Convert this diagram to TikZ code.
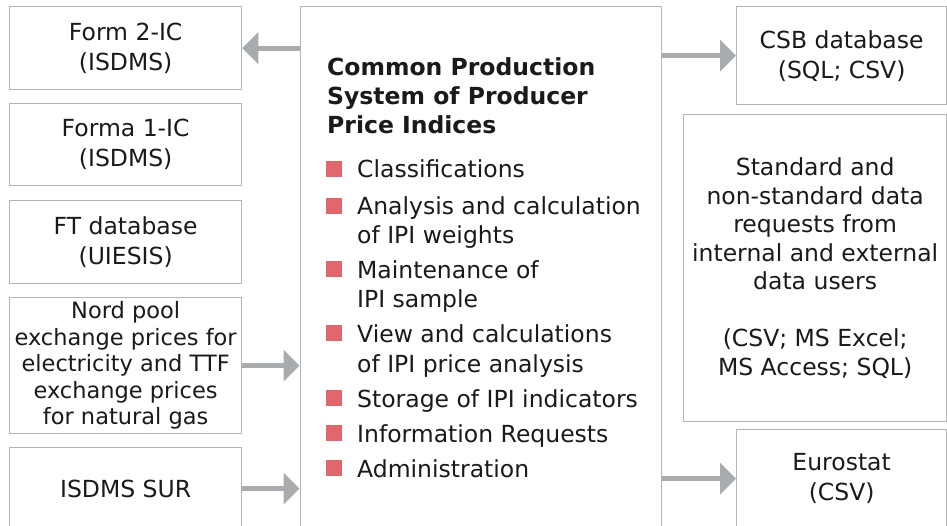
\documentclass[tikz,border=0pt]{standalone}
\usepackage{fontspec}
\setmainfont{DejaVu Sans}
\usetikzlibrary{arrows.meta}
\definecolor{boxline}{HTML}{B4B4B4}
\definecolor{arrowgray}{HTML}{A9ACAE}
\definecolor{bulletred}{HTML}{E0686C}
\definecolor{txt}{HTML}{1A1A1A}
\tikzset{
  box/.style={draw=boxline, line width=1.3pt, fill=white, inner sep=0pt,
    align=center, text=txt, anchor=north west,
    font=\fontsize{23.5}{30}\selectfont},
  conn/.style={draw=arrowgray, line width=5pt,
    -{Triangle[length=16pt,width=31pt]}},
  bulletsq/.style={fill=bulletred, minimum width=16pt, minimum height=15.5pt,
    inner sep=0pt, anchor=south west},
  itemtext/.style={anchor=base west, align=left, inner sep=0pt, text=txt,
    font=\fontsize{23.5}{29.5}\selectfont},
  titletext/.style={anchor=base west, align=left, inner sep=0pt, text=txt,
    font=\fontsize{23.5}{29}\selectfont\bfseries}
}
\begin{document}
\begin{tikzpicture}[x=1pt,y=-1pt]
\useasboundingbox (0,0) rectangle (947,526);
\fill[white] (0,0) rectangle (947,526);
\clip (0,0) rectangle (947,526);

% left column
\node[box, minimum width=232pt, minimum height=83pt] (form2) at (9,6) {Form 2-IC\\(ISDMS)};
\node[box, minimum width=232pt, minimum height=82pt] (forma1) at (9,103) {Forma 1-IC\\(ISDMS)};
\node[box, minimum width=232pt, minimum height=83pt] (ftdb) at (9,200) {FT database\\(UIESIS)};
\node[box, minimum width=232pt, minimum height=136pt,
  font=\fontsize{22.5}{26.5}\selectfont] (nord) at (9,297)
  {Nord pool\\exchange prices for\\electricity and TTF\\exchange prices\\for natural gas};
\node[box, minimum width=232pt, minimum height=82pt] (isdms) at (9,447) {ISDMS SUR};

% centre
\node[box, minimum width=361.5pt, minimum height=560pt] (core) at (299.5,6) {};
% (base anchor of a multi-line node = baseline of its last line)
\node[titletext] (title) at (327,134) {Common Production\\System of Producer\\Price Indices};
\foreach \yy [count=\k] in {178,215,278,342,407,442,477}
  \node[bulletsq] (b\k) at (326,\yy-1) {};
\node[itemtext] (i1) at (357,178) {Classifications};
\node[itemtext] (i2) at (357,244) {Analysis and calculation\\of IPI weights};
\node[itemtext] (i3) at (357,308) {Maintenance of\\IPI sample};
\node[itemtext] (i4) at (357,372) {View and calculations\\of IPI price analysis};
\node[itemtext] (i5) at (357,407) {Storage of IPI indicators};
\node[itemtext] (i6) at (357,442) {Information Requests};
\node[itemtext] (i7) at (357,477) {Administration};

% right column
\node[box, minimum width=210pt, minimum height=98pt] (csb) at (736,6) {CSB database\\(SQL; CSV)};
\node[box, minimum width=263pt, minimum height=307pt,
  font=\fontsize{23.5}{28.5}\selectfont] (std) at (683,114)
  {Standard and\\non-standard data\\requests from\\internal and external\\data users\\\mbox{}\\(CSV; MS Excel;\\MS Access; SQL)};
\node[box, minimum width=210pt, minimum height=98pt] (euro) at (736,429) {Eurostat\\(CSV)};

% connectors
\draw[conn] (core.west |- form2.east) -- (form2.east);
\draw[conn] (nord.east) -- (nord.east -| core.west);
\draw[conn] (isdms.east) -- (isdms.east -| core.west);
\draw[conn] (core.east |- csb.west) -- (csb.west);
\draw[conn] (core.east |- euro.west) -- (euro.west);
\end{tikzpicture}
\end{document}
